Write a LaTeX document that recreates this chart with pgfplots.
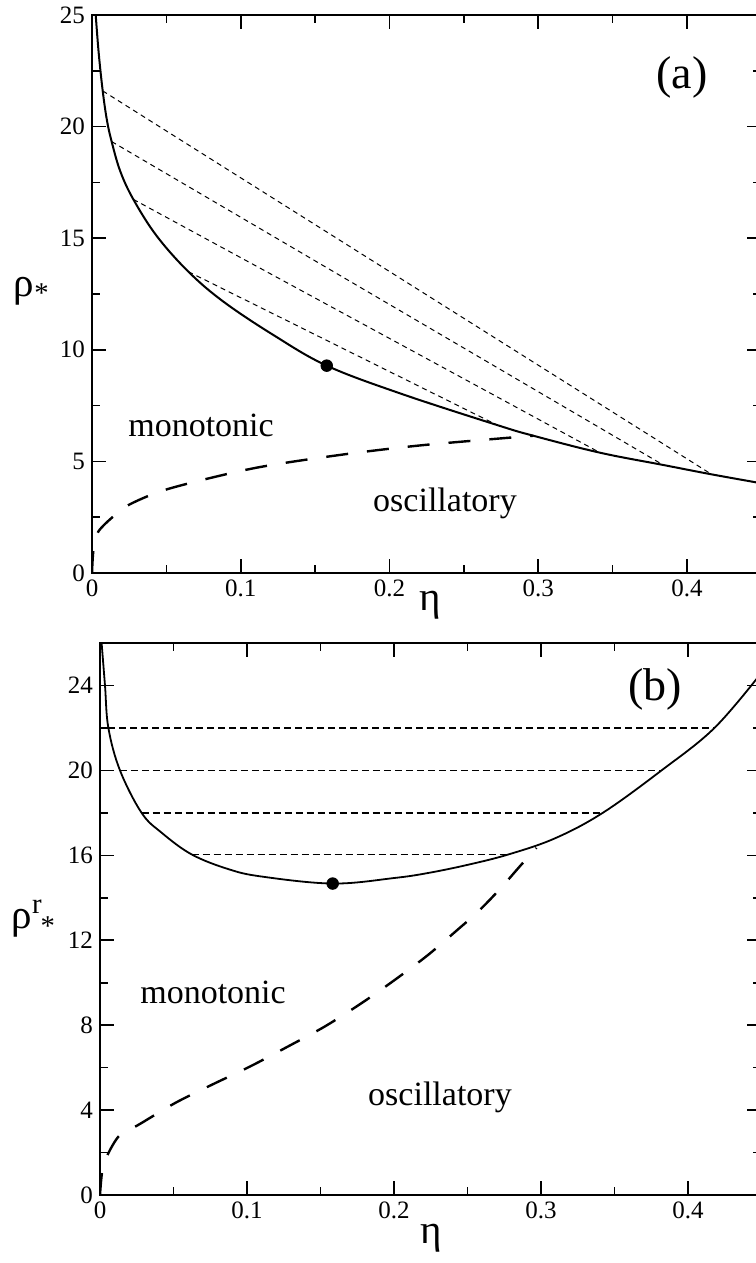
\documentclass[border=0pt]{standalone}
\usepackage{pgfplots}
\pgfplotsset{compat=1.18}
\usepackage{fontspec}
\setmainfont{Liberation Serif}

\newcommand\ticksize{\fontsize{12.5}{14}\selectfont}
\newcommand\labelsize{\fontsize{20.5}{24}\selectfont}

% solid boundary, tie lines and crossover line, panel (a)
\pgfplotstableread{
x       y
0.0025  25.0
0.0045  23.3
0.0072  21.6
0.0100  20.3
0.0132  19.33
0.0190  18.0
0.0278  16.74
0.0435  15.1
0.0648  13.5
0.0883  12.16
0.1220  10.66
0.1578  9.29
0.2070  8.05
0.2723  6.63
0.2967  6.15
0.3415  5.39
0.3840  4.84
0.4165  4.42
0.4500  4.02
}\spinodalA
\pgfplotstableread{
x       y
0.0000  0.00
0.0010  1.05
0.0042  1.85
0.0155  2.60
0.0267  3.12
0.0524  3.79
0.1084  4.69
0.1667  5.29
0.2227  5.73
0.2967  6.15
}\crossA
% panel (b)
\pgfplotstableread{
x       y
0.0011  26.0
0.0034  24.0
0.0057  22.0
0.0136  20.0
0.0283  18.0
0.0420  17.06
0.0624  16.04
0.0873  15.35
0.1100  15.00
0.1583  14.67
0.2000  14.93
0.2234  15.17
0.2500  15.55
0.2778  16.04
0.3095  16.80
0.3420  18.0
0.3820  20.0
0.4180  22.0
0.4500  24.6
}\spinodalB
\pgfplotstableread{
x       y
0.0000  0.00
0.0016  1.15
0.0057  1.97
0.0136  2.83
0.0260  3.30
0.0510  4.33
0.0760  5.19
0.1020  6.05
0.1280  7.00
0.1530  7.94
0.1780  9.04
0.2007  10.14
0.2234  11.32
0.2460  12.66
0.2550  13.20
0.2665  14.00
0.2778  14.86
0.2857  15.49
0.2970  16.35
}\crossB

\pgfplotsset{
  panel/.style={
    scale only axis,
    xmin=0, xmax=0.45, ymin=0,
    axis line style={line width=1pt},
    every tick/.style={line width=0.8pt, black},
    major tick length=7pt, minor tick length=4pt,
    tick align=inside, tick pos=both,
    xtick={0,0.1,0.2,0.3,0.4},
    minor x tick num=1, minor y tick num=1,
    /pgf/number format/assume math mode=true,
    /pgf/number format/fixed,
    xticklabel={\ticksize\pgfmathprintnumber{\tick}},
    yticklabel={\ticksize\pgfmathprintnumber{\tick}},
  },
}
\tikzset{
  tie/.style={black, line width=0.5pt, dash pattern=on 2.5pt off 2pt},
  tieb/.style={black, line width=0.75pt, dash pattern=on 3.5pt off 2pt},
  cross/.style={black, line width=1.2pt, dash pattern=on 11pt off 9.5pt},
  region/.style={font=\fontsize{17}{20}\selectfont},
  tag/.style={font=\fontsize{23}{26}\selectfont},
}

\begin{document}
\begin{tikzpicture}
% ---------------- panel (a) ----------------
\begin{axis}[panel,
  at={(46pt,-286.5pt)}, anchor=south west,
  width=334.7pt, height=279pt,
  ymax=25, ytick={0,5,...,25},
  xlabel={\labelsize η}, ylabel={\labelsize ρ\textsubscript{*}},
  xlabel style={at={(axis description cs:0.505,-0.057)}, anchor=center},
  ylabel style={at={(axis description cs:-0.09,0.505)}, anchor=center, rotate=-90},
]
\addplot[tie] coordinates {(0.0072,21.6) (0.4165,4.42)};
\addplot[tie] coordinates {(0.0132,19.33) (0.3840,4.84)};
\addplot[tie] coordinates {(0.0278,16.74) (0.3415,5.39)};
\addplot[tie] coordinates {(0.0648,13.5) (0.2723,6.63)};
\addplot[cross, smooth, tension=0.5] table {\crossA};
\addplot[black, line width=1pt, smooth, tension=0.6] table {\spinodalA};
\addplot[only marks, mark=*, mark size=2.9pt, black] coordinates {(0.1578,9.29)};
\node[region] at (axis cs:0.0733,6.63) {monotonic};
\node[region] at (axis cs:0.2373,3.14) {oscillatory};
\node[tag] at (axis cs:0.3966,22.2) {(a)};
\end{axis}
% ---------------- panel (b) ----------------
\begin{axis}[panel,
  at={(50pt,-597.5pt)}, anchor=south west,
  width=330.75pt, height=276pt,
  ymax=26, ytick={0,4,...,24},
  xlabel={\labelsize η}, ylabel={\labelsize ρ\textsuperscript{r}\kern-0.05em\textsubscript{*}},
  xlabel style={at={(axis description cs:0.5,-0.078)}, anchor=center},
  ylabel style={at={(axis description cs:-0.1,0.5)}, anchor=center, rotate=-90},
]
\addplot[tieb] coordinates {(0.0057,22) (0.418,22)};
\addplot[tieb] coordinates {(0.0136,20) (0.382,20)};
\addplot[tieb] coordinates {(0.0283,18) (0.342,18)};
\addplot[tieb] coordinates {(0.0624,16.04) (0.2778,16.04)};
\addplot[cross, smooth, tension=0.5] table {\crossB};
\addplot[black, line width=0.9pt, smooth, tension=0.6] table {\spinodalB};
\addplot[only marks, mark=*, mark size=2.9pt, black] coordinates {(0.1583,14.67)};
\node[region] at (axis cs:0.0769,9.53) {monotonic};
\node[region] at (axis cs:0.2313,4.58) {oscillatory};
\node[tag] at (axis cs:0.3776,23.8) {(b)};
\end{axis}
\pgfresetboundingbox
\path[use as bounding box] (0,0) rectangle (377.5pt,-631.5pt);
\end{tikzpicture}
\end{document}
